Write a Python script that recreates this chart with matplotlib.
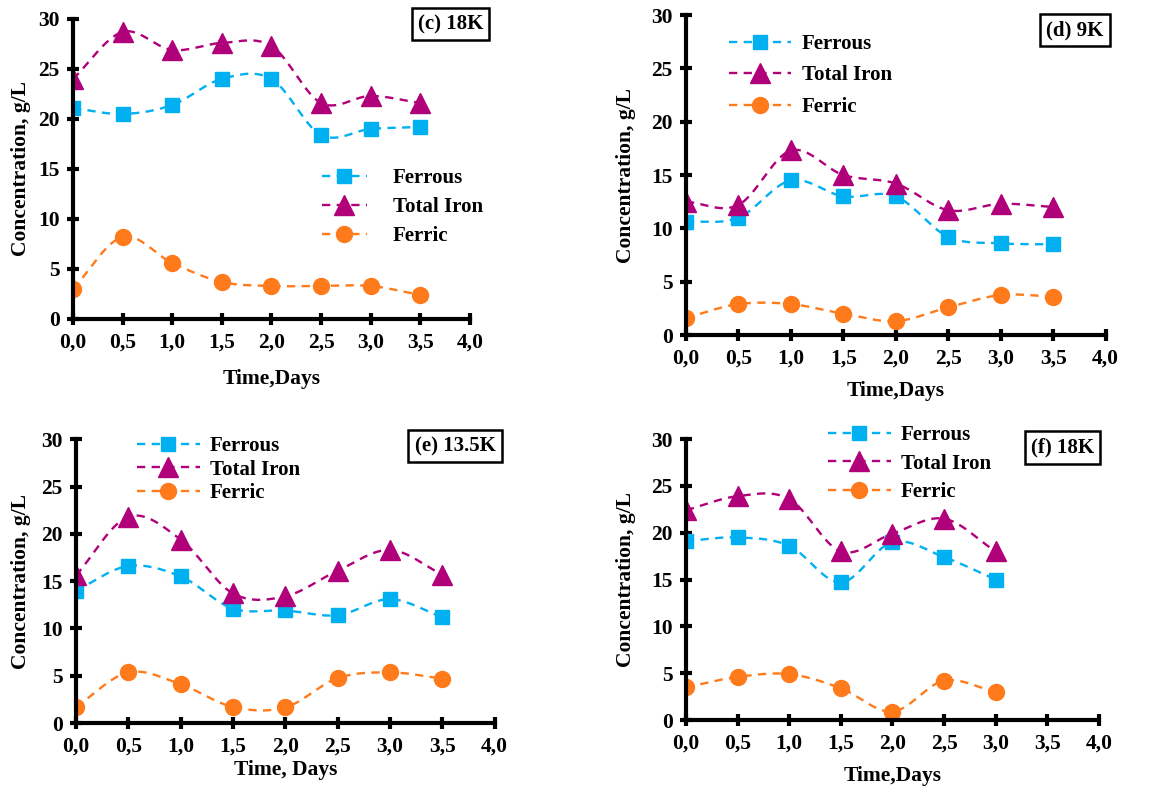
import matplotlib
matplotlib.use("Agg")
import matplotlib.pyplot as plt
import numpy as np

plt.rcParams["font.family"] = ["Liberation Serif", "DejaVu Serif"]
plt.rcParams["font.weight"] = "bold"
plt.rcParams["axes.labelweight"] = "bold"

# data
days_c = [0.0, 0.5, 1.0, 1.5, 2.0, 2.5, 3.0, 3.5]
ferrous_c = [21.1, 20.5, 21.4, 24.0, 24.0, 18.4, 19.0, 19.2]
total_c = [24.0, 28.7, 26.9, 27.6, 27.3, 21.6, 22.3, 21.6]
ferric_c = [3.0, 8.2, 5.6, 3.7, 3.3, 3.3, 3.3, 2.4]

days_d = [0.0, 0.5, 1.0, 1.5, 2.0, 2.5, 3.0, 3.5]
ferrous_d = [10.6, 11.0, 14.5, 13.0, 13.0, 9.2, 8.6, 8.5]
total_d = [12.5, 12.2, 17.3, 15.0, 14.2, 11.7, 12.3, 12.0]
ferric_d = [1.6, 2.9, 2.9, 2.0, 1.3, 2.6, 3.75, 3.6]

days_e = [0.0, 0.5, 1.0, 1.5, 2.0, 2.5, 3.0, 3.5]
ferrous_e = [14.0, 16.6, 15.5, 12.1, 11.9, 11.4, 13.1, 11.2]
total_e = [15.6, 21.8, 19.4, 13.7, 13.4, 16.1, 18.3, 15.7]
ferric_e = [1.7, 5.35, 4.1, 1.7, 1.65, 4.75, 5.35, 4.7]

days_f = [0.0, 0.5, 1.0, 1.5, 2.0, 2.5, 3.0]
ferrous_f = [19.1, 19.5, 18.6, 14.7, 19.0, 17.4, 15.0]
total_f = [22.4, 23.9, 23.6, 18.0, 19.9, 21.5, 18.0]
ferric_f = [3.5, 4.6, 4.9, 3.4, 0.9, 4.2, 3.0]

x_ticks = [0.0, 0.5, 1.0, 1.5, 2.0, 2.5, 3.0, 3.5, 4.0]
x_ticklabels = ["0,0", "0,5", "1,0", "1,5", "2,0", "2,5", "3,0", "3,5", "4,0"]
y_ticks = [0, 5, 10, 15, 20, 25, 30]

BLUE = "#00B0F0"
PURPLE = "#B0007A"
ORANGE = "#FF7A1A"
DASH = (0, (3.5, 2.7))


def smooth(x, y, n=30):
    # catmull-rom curve through the points, like Excel's smoothed line
    x = np.asarray(x, float)
    y = np.asarray(y, float)
    px = np.concatenate([[2 * x[0] - x[1]], x, [2 * x[-1] - x[-2]]])
    py = np.concatenate([[2 * y[0] - y[1]], y, [2 * y[-1] - y[-2]]])
    xs, ys = [], []
    t = np.linspace(0, 1, n)
    for i in range(1, len(px) - 2):
        for p, out in ((px, xs), (py, ys)):
            p0, p1, p2, p3 = p[i - 1], p[i], p[i + 1], p[i + 2]
            out.extend(0.5 * ((2 * p1) + (-p0 + p2) * t
                              + (2 * p0 - 5 * p1 + 4 * p2 - p3) * t ** 2
                              + (-p0 + 3 * p1 - 3 * p2 + p3) * t ** 3))
    return np.array(xs), np.array(ys)


# tag, data, xlabel, axes rect, legend anchor (px), legend spacing, handle length, handle pad,
# tag box (px), xlabel pad, ylabel pad
panels = [
    ("(c) 18K", days_c, ferrous_c, total_c, ferric_c, "Time,Days",
     [0.0635, 0.5947, 0.3455, 0.3812], (322, 168), 0.43, 2.15, 1.25,
     (412, 7, 489, 41), 12, 5.5),
    ("(d) 9K", days_d, ferrous_d, total_d, ferric_d, "Time,Days",
     [0.597, 0.5743, 0.3653, 0.4066], (729, 34), 0.55, 3.0, 0.5,
     (1040, 14, 1110, 46), 9, 11),
    ("(e) 13.5K", days_e, ferrous_e, total_e, ferric_e, "Time, Days",
     [0.0661, 0.0813, 0.3644, 0.3605], (137, 436), 0.17, 3.0, 0.5,
     (409, 429, 501, 463), 3, 7.5),
    ("(f) 18K", days_f, ferrous_f, total_f, ferric_f, "Time,Days",
     [0.597, 0.0851, 0.3594, 0.357], (828, 425), 0.41, 3.0, 0.5,
     (1024, 431, 1101, 464), 9, 11),
]

W, H = 1149, 787
fig = plt.figure(figsize=(W / 100, H / 100), dpi=100)

for (tag, days, fe2, tot, fe3, xlab, rect, leg_xy, lspace, hlen, hpad,
     box, xpad, ypad) in panels:
    ax = fig.add_axes(rect)
    for vals, col, mk, ms, name in ((fe2, BLUE, "s", 10.5, "Ferrous"),
                                    (tot, PURPLE, "^", 14, "Total Iron"),
                                    (fe3, ORANGE, "o", 11.5, "Ferric")):
        sx, sy = smooth(days, vals)
        ax.plot(sx, sy, color=col, lw=1.7, ls=DASH)
        ax.plot(days, vals, ls="none", marker=mk, ms=ms, color=col)
        ax.plot([], [], color=col, lw=1.7, ls=DASH, marker=mk, ms=ms, label=name)

    ax.set_xlim(0, 4.0)
    ax.set_ylim(0, 30)
    ax.set_xticks(x_ticks)
    ax.set_xticklabels(x_ticklabels)
    ax.set_yticks(y_ticks)
    for s in ("top", "right"):
        ax.spines[s].set_visible(False)
    for s in ("left", "bottom"):
        ax.spines[s].set_linewidth(3)
    ax.tick_params(direction="inout", length=9, width=3, labelsize=15.5, pad=5)
    ax.set_xlabel(xlab, fontsize=15.5, labelpad=xpad)
    ax.set_ylabel("Concentration, g/L", fontsize=15.5, labelpad=ypad)

    ax.legend(loc="upper left", bbox_to_anchor=(leg_xy[0] / W, 1 - leg_xy[1] / H),
              bbox_transform=fig.transFigure, frameon=False, fontsize=15,
              handlelength=hlen, handletextpad=hpad, labelspacing=lspace,
              borderpad=0, borderaxespad=0)

    x0, y0, x1, y1 = box
    fig.text((x0 + x1) / 2 / W, 1 - (y0 + y1) / 2 / H, tag, ha="center", va="center",
             fontsize=15, fontweight="bold",
             bbox=dict(boxstyle="square,pad=0.3", fc="white", ec="black", lw=1.8))

fig.savefig("out.png", dpi=100)
